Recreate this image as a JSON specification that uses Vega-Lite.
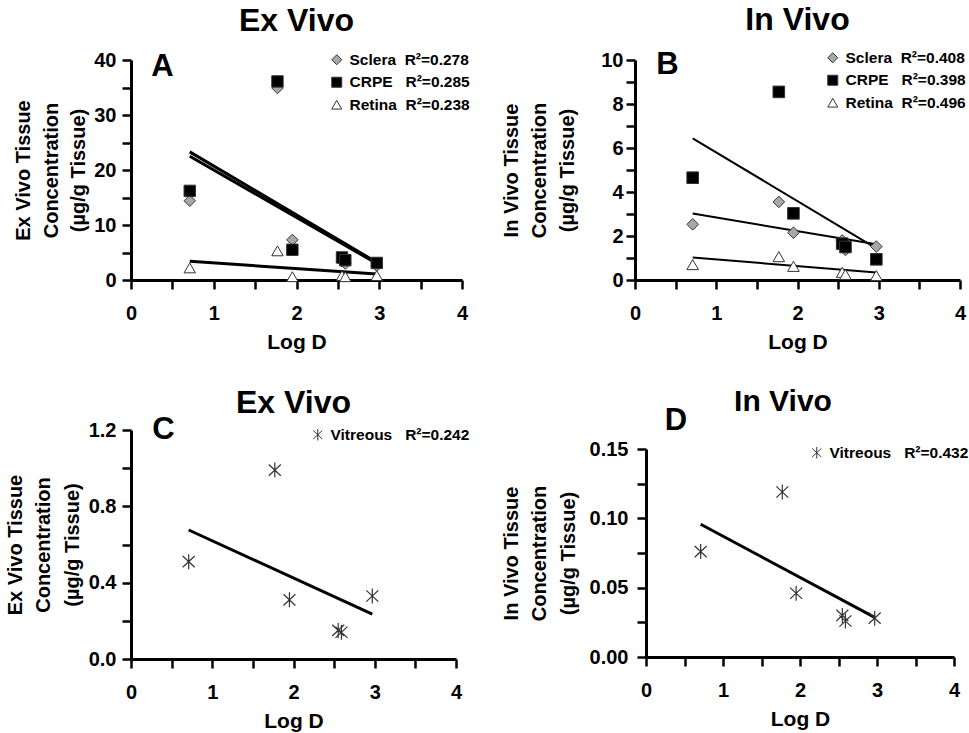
{
  "$schema": "https://vega.github.io/schema/vega-lite/v6.json",
  "background": "white",
  "padding": {"top": 3, "left": 5, "right": 5, "bottom": 5},
  "config": {
    "font": "Liberation Sans",
    "view": {"stroke": null},
    "axis": {
      "domainColor": "black", "domainWidth": 3,
      "tickColor": "black", "tickWidth": 2.5, "tickSize": 9,
      "labelFont": "Liberation Sans", "labelFontWeight": "bold", "labelFontSize": 20, "labelColor": "black",
      "labelFlush": false, "labelOverlap": false, "labelPadding": 6,
      "titleFont": "Liberation Sans", "titleFontWeight": "bold", "titleFontSize": 20, "titleColor": "black",
      "grid": false
    },
    "legend": {
      "labelFont": "Liberation Sans", "labelFontWeight": "bold", "labelFontSize": 15.5, "labelColor": "black",
      "rowPadding": 5.5, "labelOffset": 5, "padding": 0, "symbolStrokeWidth": 1
    },
    "title": {"font": "Liberation Sans", "fontSize": 32, "fontWeight": "bold", "color": "black", "anchor": "middle"}
  },
  "datasets": {
    "ex_tissue": [
      {"tissue": "Sclera", "logD": 0.71, "conc": 14.4},
      {"tissue": "Sclera", "logD": 1.77, "conc": 34.9},
      {"tissue": "Sclera", "logD": 1.95, "conc": 7.3},
      {"tissue": "Sclera", "logD": 2.55, "conc": 3.4},
      {"tissue": "Sclera", "logD": 2.59, "conc": 3.0},
      {"tissue": "Sclera", "logD": 2.97, "conc": 2.6},
      {"tissue": "CRPE", "logD": 0.71, "conc": 16.2},
      {"tissue": "CRPE", "logD": 1.77, "conc": 36.1},
      {"tissue": "CRPE", "logD": 1.95, "conc": 5.5},
      {"tissue": "CRPE", "logD": 2.55, "conc": 4.1},
      {"tissue": "CRPE", "logD": 2.59, "conc": 3.6},
      {"tissue": "CRPE", "logD": 2.97, "conc": 3.1},
      {"tissue": "Retina", "logD": 0.71, "conc": 2.2},
      {"tissue": "Retina", "logD": 1.77, "conc": 5.3},
      {"tissue": "Retina", "logD": 1.95, "conc": 0.6},
      {"tissue": "Retina", "logD": 2.55, "conc": 0.8},
      {"tissue": "Retina", "logD": 2.59, "conc": 0.6},
      {"tissue": "Retina", "logD": 2.97, "conc": 0.8}
    ],
    "ex_fit": [
      {"tissue": "Sclera", "logD": 0.71, "conc": 22.5},
      {"tissue": "Sclera", "logD": 2.97, "conc": 3.0},
      {"tissue": "CRPE", "logD": 0.71, "conc": 23.3},
      {"tissue": "CRPE", "logD": 2.97, "conc": 3.2},
      {"tissue": "Retina", "logD": 0.71, "conc": 3.4},
      {"tissue": "Retina", "logD": 2.97, "conc": 1.1}
    ],
    "in_tissue": [
      {"tissue": "Sclera", "logD": 0.71, "conc": 2.53},
      {"tissue": "Sclera", "logD": 1.77, "conc": 3.55},
      {"tissue": "Sclera", "logD": 1.95, "conc": 2.15},
      {"tissue": "Sclera", "logD": 2.55, "conc": 1.8},
      {"tissue": "Sclera", "logD": 2.59, "conc": 1.37},
      {"tissue": "Sclera", "logD": 2.97, "conc": 1.52},
      {"tissue": "CRPE", "logD": 0.71, "conc": 4.65},
      {"tissue": "CRPE", "logD": 1.77, "conc": 8.55},
      {"tissue": "CRPE", "logD": 1.95, "conc": 3.03},
      {"tissue": "CRPE", "logD": 2.55, "conc": 1.65},
      {"tissue": "CRPE", "logD": 2.59, "conc": 1.5},
      {"tissue": "CRPE", "logD": 2.97, "conc": 0.94},
      {"tissue": "Retina", "logD": 0.71, "conc": 0.7},
      {"tissue": "Retina", "logD": 1.77, "conc": 1.06},
      {"tissue": "Retina", "logD": 1.95, "conc": 0.62},
      {"tissue": "Retina", "logD": 2.55, "conc": 0.35},
      {"tissue": "Retina", "logD": 2.59, "conc": 0.25},
      {"tissue": "Retina", "logD": 2.97, "conc": 0.2}
    ],
    "in_fit": [
      {"tissue": "Sclera", "logD": 0.71, "conc": 3.02},
      {"tissue": "Sclera", "logD": 2.97, "conc": 1.62},
      {"tissue": "CRPE", "logD": 0.71, "conc": 6.44},
      {"tissue": "CRPE", "logD": 2.97, "conc": 1.44},
      {"tissue": "Retina", "logD": 0.71, "conc": 1.02},
      {"tissue": "Retina", "logD": 2.97, "conc": 0.34}
    ],
    "ex_vit": [
      {"tissue": "Vitreous", "logD": 0.71, "conc": 0.51},
      {"tissue": "Vitreous", "logD": 1.77, "conc": 0.99},
      {"tissue": "Vitreous", "logD": 1.95, "conc": 0.31},
      {"tissue": "Vitreous", "logD": 2.55, "conc": 0.15},
      {"tissue": "Vitreous", "logD": 2.59, "conc": 0.14},
      {"tissue": "Vitreous", "logD": 2.97, "conc": 0.33}
    ],
    "ex_vit_fit": [
      {"tissue": "Vitreous", "logD": 0.71, "conc": 0.676},
      {"tissue": "Vitreous", "logD": 2.97, "conc": 0.235}
    ],
    "in_vit": [
      {"tissue": "Vitreous", "logD": 0.71, "conc": 0.076},
      {"tissue": "Vitreous", "logD": 1.77, "conc": 0.119},
      {"tissue": "Vitreous", "logD": 1.95, "conc": 0.046},
      {"tissue": "Vitreous", "logD": 2.55, "conc": 0.030},
      {"tissue": "Vitreous", "logD": 2.59, "conc": 0.026},
      {"tissue": "Vitreous", "logD": 2.97, "conc": 0.028}
    ],
    "in_vit_fit": [
      {"tissue": "Vitreous", "logD": 0.71, "conc": 0.0957},
      {"tissue": "Vitreous", "logD": 2.97, "conc": 0.0286}
    ]
  },
  "columns": 2,
  "align": "none",
  "spacing": {"row": 35, "column": 31},
  "resolve": {
    "scale": {"shape": "independent", "fill": "independent"},
    "legend": {"shape": "independent", "fill": "independent"}
  },
  "concat": [
    {
      "title": {"text": "Ex Vivo", "offset": 12},
      "width": 331, "height": 220,
      "encoding": {
        "x": {"field": "logD", "type": "quantitative", "scale": {"domain": [0, 4], "nice": false, "zero": false},
              "axis": {"values": [0, 0.5, 1, 1.5, 2, 2.5, 3, 3.5, 4], "format": "~g", "labelExpr": "datum.value % 1 == 0 ? datum.label : ''", "labelPadding": 14, "title": "Log D", "titleFontSize": 21, "titlePadding": 8}},
        "y": {"field": "conc", "type": "quantitative", "scale": {"domain": [0, 40], "nice": false},
              "axis": {"values": [0, 5, 10, 15, 20, 25, 30, 35, 40], "labelExpr": "datum.value % 10 == 0 ? datum.label : ''",
                       "title": ["Ex Vivo Tissue", "Concentration", "(µg/g Tissue)"], "titleLineHeight": 27.5, "titlePadding": 5}}
      },
      "layer": [
        {"data": {"name": "ex_fit"}, "mark": {"type": "line", "color": "black", "strokeWidth": 3}, "encoding": {"detail": {"field": "tissue"}}},
        {"data": {"name": "ex_tissue"},
         "mark": {"type": "point", "filled": true, "size": 130, "stroke": "#333333", "strokeWidth": 1, "opacity": 1},
         "encoding": {
           "shape": {"field": "tissue", "type": "nominal", "scale": {"domain": ["Sclera", "CRPE", "Retina"], "range": ["diamond", "square", "triangle-up"]},
                     "legend": {"title": null, "orient": "none", "legendX": 198, "legendY": -8, "symbolSize": 100,
                                "encode": {"symbols": {"update": {"stroke": {"value": "#333333"}, "strokeWidth": {"value": 1}}}},
                                "labelExpr": "datum.label == 'Sclera' ? 'Sclera\u00a0\u00a0R²=0.278' : datum.label == 'CRPE' ? 'CRPE\u00a0\u00a0\u00a0R²=0.285' : 'Retina\u00a0\u00a0R²=0.238'"}},
           "fill": {"field": "tissue", "type": "nominal", "scale": {"domain": ["Sclera", "CRPE", "Retina"], "range": ["#a8a8a8", "#000000", "#ffffff"]},
                    "legend": {"title": null, "orient": "none", "legendX": 198, "legendY": -8, "symbolSize": 100,
                               "encode": {"symbols": {"update": {"stroke": {"value": "#333333"}, "strokeWidth": {"value": 1}}}},
                               "labelExpr": "datum.label == 'Sclera' ? 'Sclera\u00a0\u00a0R²=0.278' : datum.label == 'CRPE' ? 'CRPE\u00a0\u00a0\u00a0R²=0.285' : 'Retina\u00a0\u00a0R²=0.238'"}}
         }},
        {"data": {"values": [{"label": "A", "logD": 0.38, "conc": 38.8}]},
         "mark": {"type": "text", "fontSize": 31, "fontWeight": "bold", "font": "Liberation Sans", "color": "black", "baseline": "middle", "align": "center"},
         "encoding": {"text": {"field": "label"}}}
      ]
    },
    {
      "title": {"text": "In Vivo", "offset": 12},
      "width": 325, "height": 220,
      "encoding": {
        "x": {"field": "logD", "type": "quantitative", "scale": {"domain": [0, 4], "nice": false, "zero": false},
              "axis": {"values": [0, 0.5, 1, 1.5, 2, 2.5, 3, 3.5, 4], "format": "~g", "labelExpr": "datum.value % 1 == 0 ? datum.label : ''", "labelPadding": 14, "title": "Log D", "titleFontSize": 21, "titlePadding": 8}},
        "y": {"field": "conc", "type": "quantitative", "scale": {"domain": [0, 10], "nice": false},
              "axis": {"values": [0, 1, 2, 3, 4, 5, 6, 7, 8, 9, 10], "labelExpr": "datum.value % 2 == 0 ? datum.label : ''", "labelPadding": 3,
                       "title": ["In Vivo Tissue", "Concentration", "(µg/g Tissue)"], "titleLineHeight": 28, "titlePadding": 23}}
      },
      "layer": [
        {"data": {"name": "in_fit"}, "mark": {"type": "line", "color": "black", "strokeWidth": 2}, "encoding": {"detail": {"field": "tissue"}}},
        {"data": {"name": "in_tissue"},
         "mark": {"type": "point", "filled": true, "size": 135, "stroke": "#333333", "strokeWidth": 1, "opacity": 1},
         "encoding": {
           "shape": {"field": "tissue", "type": "nominal", "scale": {"domain": ["Sclera", "CRPE", "Retina"], "range": ["diamond", "square", "triangle-up"]},
                     "legend": {"title": null, "orient": "none", "legendX": 190, "legendY": -10, "symbolSize": 100,
                                "encode": {"symbols": {"update": {"stroke": {"value": "#333333"}, "strokeWidth": {"value": 1}}}},
                                "labelExpr": "datum.label == 'Sclera' ? 'Sclera\u00a0\u00a0R²=0.408' : datum.label == 'CRPE' ? 'CRPE\u00a0\u00a0\u00a0R²=0.398' : 'Retina\u00a0\u00a0R²=0.496'"}},
           "fill": {"field": "tissue", "type": "nominal", "scale": {"domain": ["Sclera", "CRPE", "Retina"], "range": ["#a8a8a8", "#000000", "#ffffff"]},
                    "legend": {"title": null, "orient": "none", "legendX": 190, "legendY": -10, "symbolSize": 100,
                               "encode": {"symbols": {"update": {"stroke": {"value": "#333333"}, "strokeWidth": {"value": 1}}}},
                               "labelExpr": "datum.label == 'Sclera' ? 'Sclera\u00a0\u00a0R²=0.408' : datum.label == 'CRPE' ? 'CRPE\u00a0\u00a0\u00a0R²=0.398' : 'Retina\u00a0\u00a0R²=0.496'"}}
         }},
        {"data": {"values": [{"label": "B", "logD": 0.4, "conc": 9.78}]},
         "mark": {"type": "text", "fontSize": 31, "fontWeight": "bold", "font": "Liberation Sans", "color": "black", "baseline": "middle", "align": "center"},
         "encoding": {"text": {"field": "label"}}}
      ]
    },
    {
      "title": {"text": "Ex Vivo", "offset": -6},
      "width": 325, "height": 229,
      "encoding": {
        "x": {"field": "logD", "type": "quantitative", "scale": {"domain": [0, 4], "nice": false, "zero": false},
              "axis": {"values": [0, 0.5, 1, 1.5, 2, 2.5, 3, 3.5, 4], "format": "~g", "labelExpr": "datum.value % 1 == 0 ? datum.label : ''", "labelPadding": 14, "title": "Log D", "titleFontSize": 21, "titlePadding": 8}},
        "y": {"field": "conc", "type": "quantitative", "scale": {"domain": [0, 1.2], "nice": false},
              "axis": {"values": [0, 0.2, 0.4, 0.6, 0.8, 1.0, 1.2], "format": ".1f", "labelExpr": "round(datum.value * 10) % 4 == 0 ? datum.label : ''",
                       "title": ["Ex Vivo Tissue", "Concentration", "(µg/g Tissue)"], "titleLineHeight": 28.5, "titlePadding": 6}}
      },
      "layer": [
        {"data": {"name": "ex_vit_fit"}, "mark": {"type": "line", "color": "black", "strokeWidth": 3}, "encoding": {"detail": {"field": "tissue"}}},
        {"data": {"name": "ex_vit"},
         "mark": {"type": "point", "filled": false, "size": 225, "stroke": "#333333", "strokeWidth": 1.2, "opacity": 1},
         "encoding": {
           "shape": {"field": "tissue", "type": "nominal",
                     "scale": {"domain": ["Vitreous"], "range": ["M0,-1L0,1M-0.8,-0.75L0.8,0.75M-0.8,0.75L0.8,-0.75"]},
                     "legend": {"title": null, "orient": "none", "legendX": 179, "legendY": -3, "symbolSize": 130, "symbolStrokeColor": "#333333",
                                "labelExpr": "'Vitreous\u00a0\u00a0\u00a0R²=0.242'"}}
         }},
        {"data": {"values": [{"label": "C", "logD": 0.4, "conc": 1.2}]},
         "mark": {"type": "text", "fontSize": 31, "fontWeight": "bold", "font": "Liberation Sans", "color": "black", "baseline": "middle", "align": "center"},
         "encoding": {"text": {"field": "label"}}}
      ]
    },
    {
      "title": {"text": "In Vivo", "offset": -12, "fontSize": 30, "dx": -17},
      "width": 308, "height": 208,
      "encoding": {
        "x": {"field": "logD", "type": "quantitative", "scale": {"domain": [0, 4], "nice": false, "zero": false},
              "axis": {"values": [0, 0.5, 1, 1.5, 2, 2.5, 3, 3.5, 4], "format": "~g", "labelExpr": "datum.value % 1 == 0 ? datum.label : ''", "labelPadding": 14, "title": "Log D", "titleFontSize": 21, "titlePadding": 8}},
        "y": {"field": "conc", "type": "quantitative", "scale": {"domain": [0, 0.15], "nice": false},
              "axis": {"values": [0, 0.025, 0.05, 0.075, 0.1, 0.125, 0.15], "format": ".2f", "labelExpr": "round(datum.value * 1000) % 50 == 0 ? datum.label : ''", "labelPadding": 9,
                       "title": ["In Vivo Tissue", "Concentration", "(µg/g Tissue)"], "titleLineHeight": 28.5, "titlePadding": 11}}
      },
      "layer": [
        {"data": {"name": "in_vit_fit"}, "mark": {"type": "line", "color": "black", "strokeWidth": 3}, "encoding": {"detail": {"field": "tissue"}}},
        {"data": {"name": "in_vit"},
         "mark": {"type": "point", "filled": false, "size": 225, "stroke": "#333333", "strokeWidth": 1.2, "opacity": 1},
         "encoding": {
           "shape": {"field": "tissue", "type": "nominal",
                     "scale": {"domain": ["Vitreous"], "range": ["M0,-1L0,1M-0.8,-0.75L0.8,0.75M-0.8,0.75L0.8,-0.75"]},
                     "legend": {"title": null, "orient": "none", "legendX": 163, "legendY": -4, "symbolSize": 130, "symbolStrokeColor": "#333333",
                                "labelExpr": "'Vitreous\u00a0\u00a0\u00a0R²=0.432'"}}
         }},
        {"data": {"values": [{"label": "D", "logD": 0.39, "conc": 0.17}]},
         "mark": {"type": "text", "fontSize": 31, "fontWeight": "bold", "font": "Liberation Sans", "color": "black", "baseline": "middle", "align": "center"},
         "encoding": {"text": {"field": "label"}}}
      ]
    }
  ]
}
